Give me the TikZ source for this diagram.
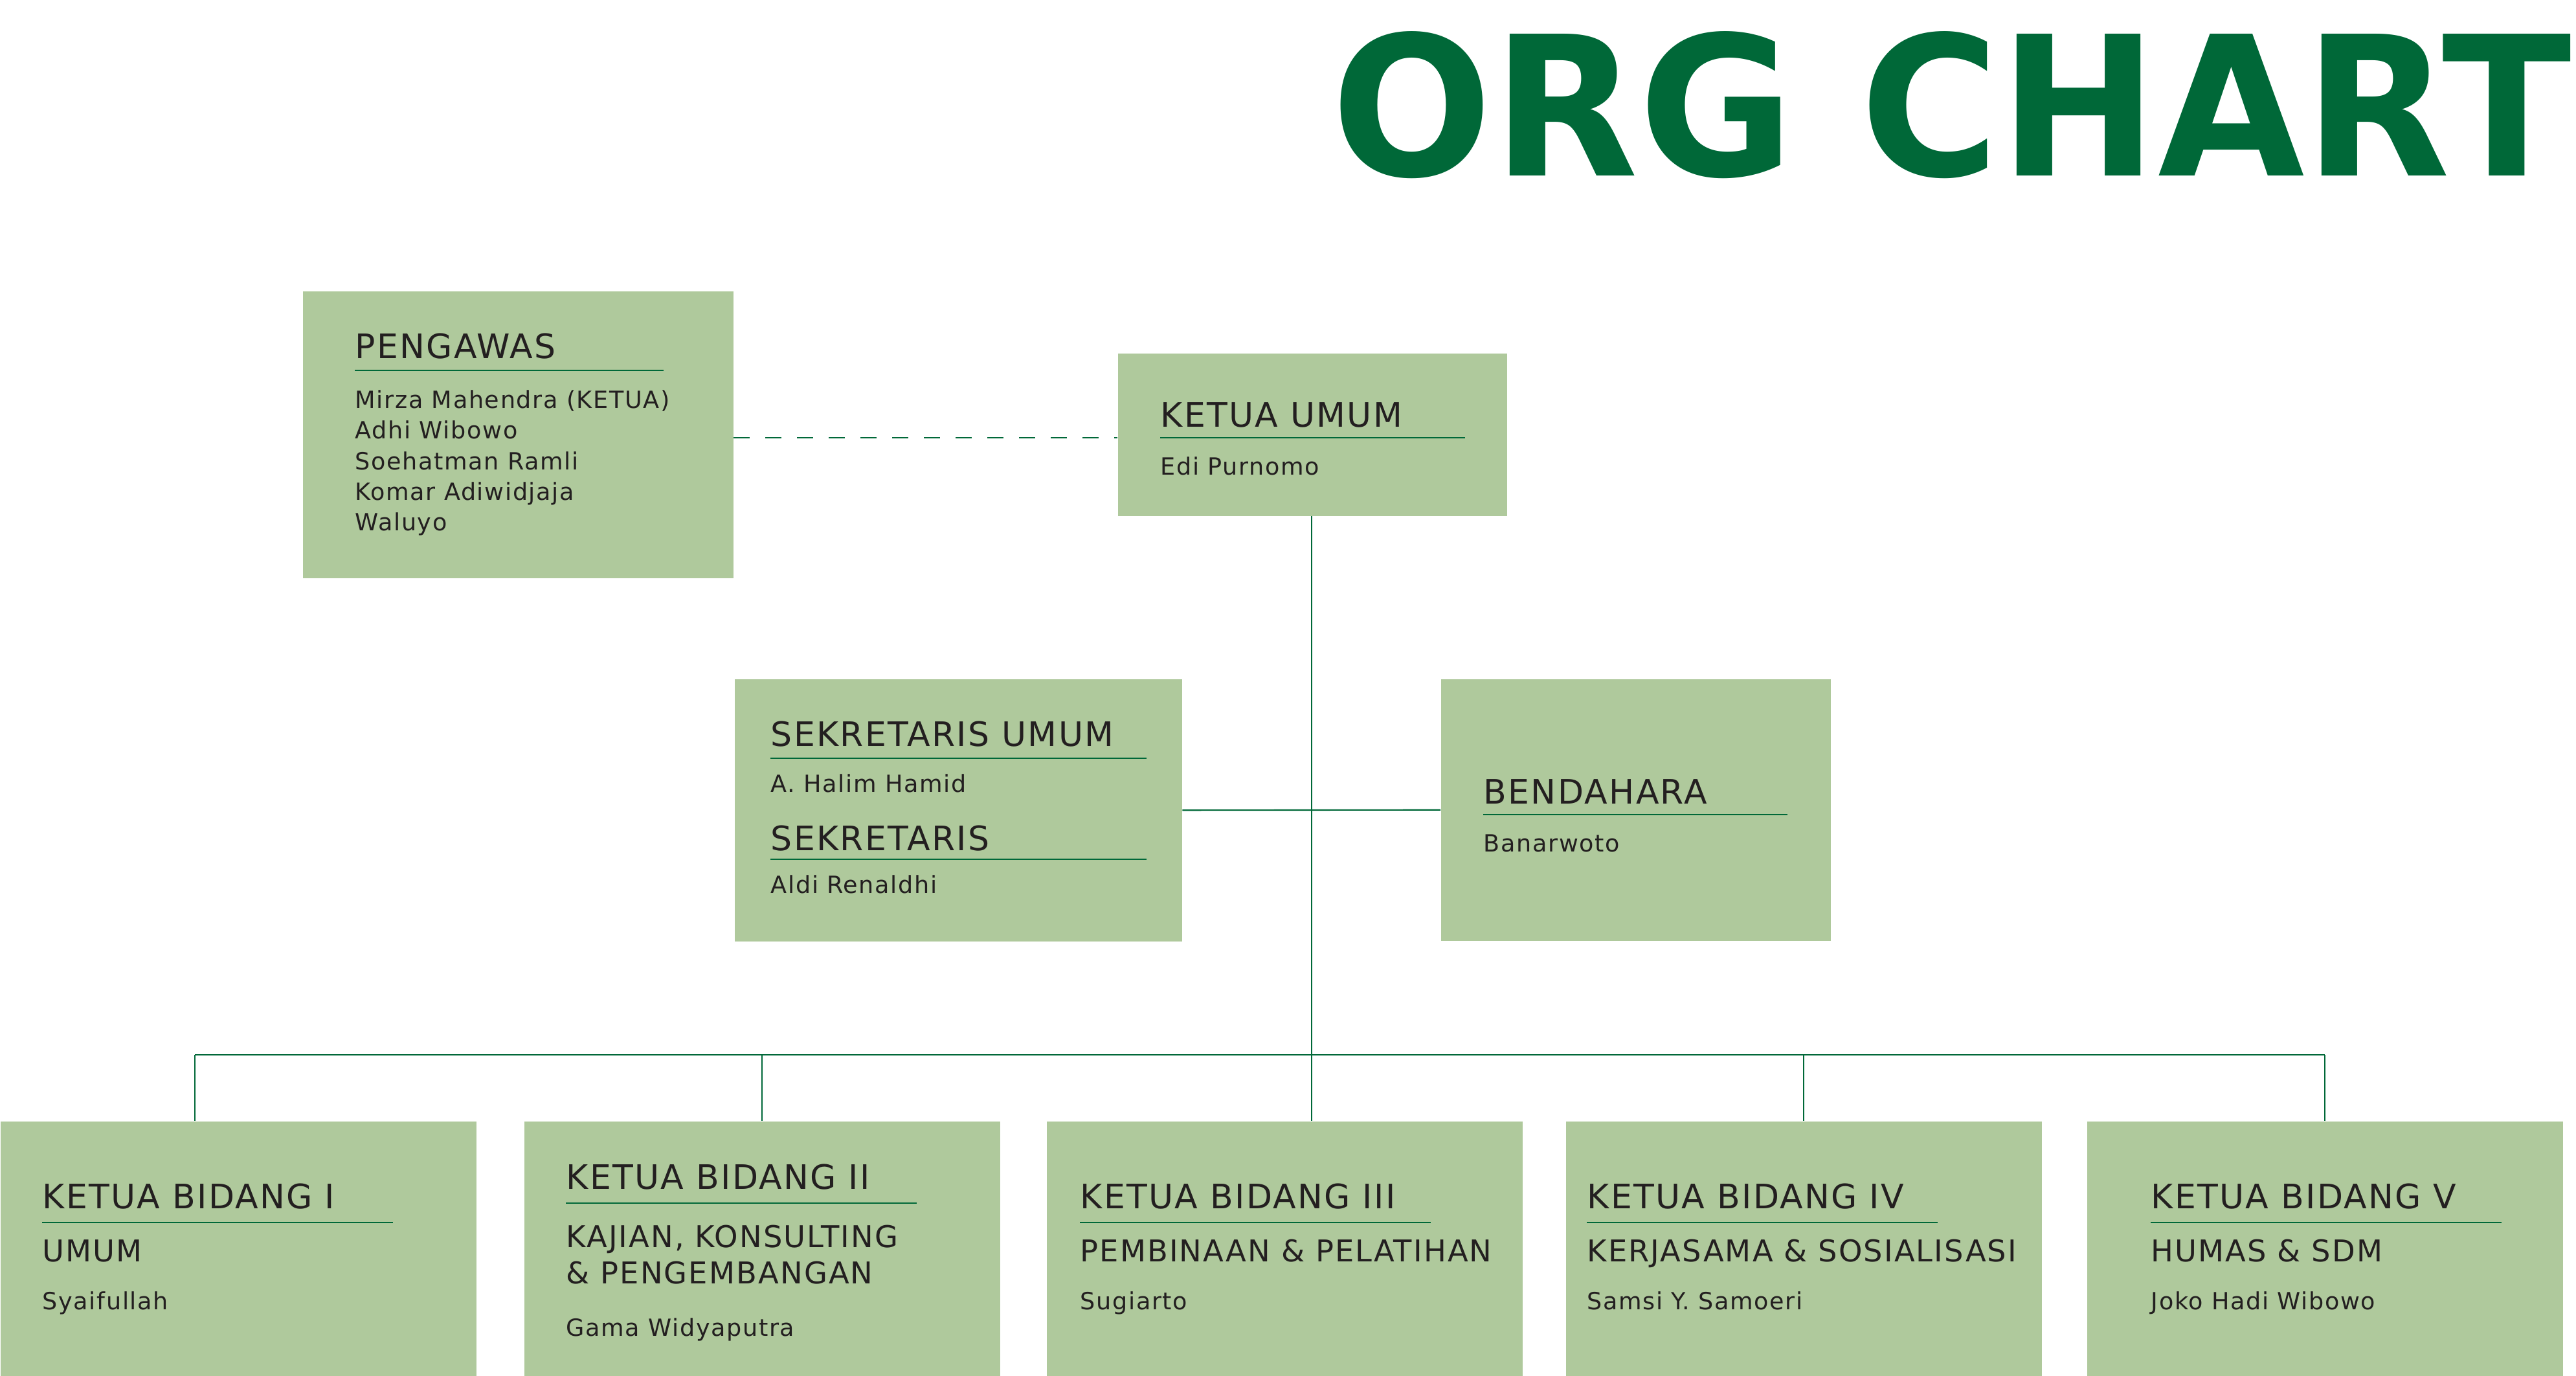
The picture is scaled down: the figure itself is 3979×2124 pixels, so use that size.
\documentclass[tikz,border=0pt]{standalone}
\usepackage{graphicx}
\usepackage{fontspec}
\setmainfont{DejaVu Sans}[LetterSpace=4.5]
\newfontfamily\titlefont{DejaVu Sans}

\definecolor{boxgreen}{RGB}{175,201,156}
\definecolor{linegreen}{RGB}{0,104,56}
\definecolor{inkgray}{RGB}{35,31,32}

\tikzset{
	box/.style={fill=boxgreen, anchor=north west, inner sep=0},
	head/.style={anchor=base west, inner sep=0, text=inkgray, font=\fontsize{14.8}{16}\selectfont},
	sub/.style={head, font=\fontsize{13.2}{15}\selectfont},
	who/.style={head, font=\fontsize{10.4}{12}\selectfont},
	headrule/.style={draw=linegreen, line width=0.6pt},
	link/.style={draw=linegreen, line width=0.6pt},
	dashlink/.style={link, dash pattern=on 2.5mm off 2.4mm}
}

\begin{document}
\begin{tikzpicture}[x=0.1mm, y=-0.1mm]
	\useasboundingbox (0,0) rectangle (3979,2124);

	\node[anchor=north west, inner sep=0, text=linegreen] (title) at (2056,48)
		{\resizebox{191.4mm}{22.3mm}{\titlefont\bfseries ORG CHART}};

	% pengawas
	\node[box, minimum width=66.5mm, minimum height=44.3mm] (pengawas) at (467,449) {};
	\node[head] (pengawasHead) at (548,553) {PENGAWAS};
	\draw[headrule] (548,572) -- (1025,572);
	\node[who] (pengawas1) at (548,630) {Mirza Mahendra (KETUA)};
	\node[who] (pengawas2) at (548,677) {Adhi Wibowo};
	\node[who] (pengawas3) at (548,725) {Soehatman Ramli};
	\node[who] (pengawas4) at (548,772) {Komar Adiwidjaja};
	\node[who] (pengawas5) at (548,819) {Waluyo};

	% ketua umum
	\node[box, minimum width=60.1mm, minimum height=25.1mm] (ketua) at (1726,545) {};
	\node[head] (ketuaHead) at (1792,659) {KETUA UMUM};
	\coordinate (ketuaRule) at (1792,676);
	\draw[headrule] (ketuaRule) -- (2263,676);
	\node[who] (ketuaName) at (1792,733) {Edi Purnomo};

	% sekretaris
	\node[box, minimum width=69.1mm, minimum height=40.5mm] (sekretaris) at (1134,1048) {};
	\node[head] (sekUmumHead) at (1190,1152) {SEKRETARIS UMUM};
	\draw[headrule] (1190,1171) -- (1771,1171);
	\node[who] (sekUmumName) at (1190,1223) {A. Halim Hamid};
	\node[head] (sekHead) at (1190,1313) {SEKRETARIS};
	\draw[headrule] (1190,1327) -- (1771,1327);
	\node[who] (sekName) at (1190,1379) {Aldi Renaldhi};

	% bendahara
	\node[box, minimum width=60.2mm, minimum height=40.4mm] (bendahara) at (2225,1048) {};
	\node[head] (bendaharaHead) at (2291,1241) {BENDAHARA};
	\draw[headrule] (2291,1258) -- (2761,1258);
	\node[who] (bendaharaName) at (2291,1315) {Banarwoto};

	% ketua bidang
	\node[box, minimum width=73.5mm, minimum height=39.3mm] (bid1) at (0,1731) {};
	\node[box, minimum width=73.5mm, minimum height=39.3mm] (bid2) at (809,1731) {};
	\node[box, minimum width=73.5mm, minimum height=39.3mm] (bid3) at (1616,1731) {};
	\node[box, minimum width=73.5mm, minimum height=39.3mm] (bid4) at (2418,1731) {};
	\node[box, minimum width=73.5mm, minimum height=39.3mm] (bid5) at (3223,1731) {};

	\node[head] (bid1Head) at (65,1866) {KETUA BIDANG I};
	\draw[headrule] (65,1888) -- (607,1888);
	\node[sub] (bid1Sub) at (65,1948) {UMUM};
	\node[who] (bid1Name) at (65,2022) {Syaifullah};

	\node[head] (bid2Head) at (874,1836) {KETUA BIDANG II};
	\draw[headrule] (874,1858) -- (1416,1858);
	\node[sub] (bid2Sub) at (874,1926) {KAJIAN, KONSULTING};
	\node[sub] (bid2Sub2) at (874,1982) {\& PENGEMBANGAN};
	\node[who] (bid2Name) at (874,2063) {Gama Widyaputra};

	\node[head] (bid3Head) at (1668,1866) {KETUA BIDANG III};
	\draw[headrule] (1668,1888) -- (2210,1888);
	\node[sub] (bid3Sub) at (1668,1948) {PEMBINAAN \& PELATIHAN};
	\node[who] (bid3Name) at (1668,2022) {Sugiarto};

	\node[head] (bid4Head) at (2451,1866) {KETUA BIDANG IV};
	\draw[headrule] (2451,1888) -- (2993,1888);
	\node[sub] (bid4Sub) at (2451,1948) {KERJASAMA \& SOSIALISASI};
	\node[who] (bid4Name) at (2451,2022) {Samsi Y. Samoeri};

	\node[head] (bid5Head) at (3322,1866) {KETUA BIDANG V};
	\draw[headrule] (3322,1888) -- (3864,1888);
	\node[sub] (bid5Sub) at (3322,1948) {HUMAS \& SDM};
	\node[who] (bid5Name) at (3322,2022) {Joko Hadi Wibowo};

	% connectors
	\draw[dashlink] (pengawas.east |- ketuaRule) -- (ketua.west |- ketuaRule);
	\draw[link] (sekretaris.east) -- (bendahara.west);

	\coordinate (spine) at (2026,1629);
	\coordinate (bus1) at (301,1629);
	\coordinate (bus2) at (1177,1629);
	\coordinate (bus4) at (2786,1629);
	\coordinate (bus5) at (3591,1629);

	\draw[link] (spine |- ketua.south) -- (spine |- bid3.north);
	\draw[link] (bus1) -- (bus5);
	\draw[link] (bus1) -- (bus1 |- bid1.north);
	\draw[link] (bus2) -- (bus2 |- bid2.north);
	\draw[link] (bus4) -- (bus4 |- bid4.north);
	\draw[link] (bus5) -- (bus5 |- bid5.north);

\end{tikzpicture}
\end{document}
